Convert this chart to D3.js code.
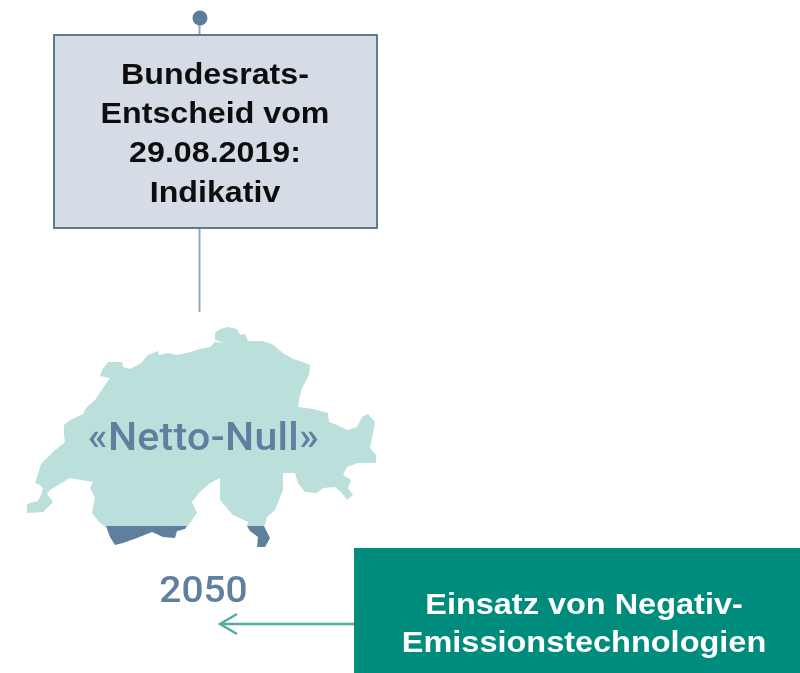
<!DOCTYPE html>
<html>
<head>
<meta charset="utf-8">
<script src="https://d3js.org/d3.v7.min.js"></script>
<style>
  html, body { margin: 0; padding: 0; background: #fff; }
  svg { display: block; }
</style>
</head>
<body>
<svg width="800" height="673"></svg>
<script>
// Texts
const decisionLines = ["Bundesrats-", "Entscheid vom", "29.08.2019:", "Indikativ"];
const mapLabel = "«Netto-Null»";
const yearLabel = "2050";
const measureLines = ["Einsatz von Negativ-", "Emissionstechnologien"];

// Map outline in map units (0,0 = top left of the country's bounding box)
const landOutline = [
  [0,186],[0,177],[11,174],[14,168],[16,161],[13,158],[8,156],[10,150],[14,137],[26,125],[38,115],
  [37,108],[37,98],[43,93],[56,87],[59,81],[68,73],[76,61],[83,51],[73,49],[75,43],[81,35],[95,35],
  [96,40],[103,42],[111,38],[115,35],[121,28],[131,24],[132,28],[141,26],[150,28],[160,26],[173,22],
  [183,20],[188,15],[198,16],[188,13],[188,6],[193,2],[201,0],[210,2],[213,8],[218,7],[221,14],
  [235,14],[245,17],[256,26],[266,32],[273,34],[283,38],[282,48],[275,61],[272,73],[271,80],
  [286,82],[301,86],[302,95],[310,98],[320,103],[330,100],[335,90],[341,87],[348,95],[346,106],
  [343,121],[349,128],[349,136],[331,136],[320,140],[316,148],[324,153],[321,161],[326,168],
  [320,173],[315,166],[308,160],[296,161],[290,166],[278,165],[271,156],[268,146],[256,146],
  [256,163],[248,183],[240,190],[237,200],[220,200],[221,195],[206,188],[193,173],[193,151],
  [183,156],[173,165],[165,175],[170,186],[160,200],[79,200],[73,196],[65,186],[68,170],[63,161],
  [66,155],[43,151],[23,163],[20,167],[26,175],[16,185]
];
const southWest = [
  [79,199],[160,199],[158,202],[150,204],[148,211],[136,210],[125,205],[110,211],[96,216],[88,218],[83,210]
];
const southEast = [
  [220,199],[237,199],[243,211],[238,220],[230,220],[231,210],[223,204]
];

// Scales from map units to the page
const x = d3.scaleLinear().domain([0, 350]).range([27, 377]);
const y = d3.scaleLinear().domain([0, 220]).range([327, 547]);

const outlinePath = d3.line().x(d => x(d[0])).y(d => y(d[1])).curve(d3.curveLinearClosed);

const svg = d3.select("svg");

// The source is a slightly soft raster, keep a bit of that
svg.append("defs").append("filter")
    .attr("id", "soft")
  .append("feGaussianBlur")
    .attr("stdDeviation", 0.7);

const g = svg.append("g").attr("filter", "url(#soft)");

// Timeline stem and marker
g.append("line")
    .attr("x1", 199.5).attr("x2", 199.5)
    .attr("y1", 18).attr("y2", 312)
    .attr("stroke", "#8fa9c0")
    .attr("stroke-width", 2);

g.append("circle")
    .attr("cx", 200).attr("cy", 18).attr("r", 7.5)
    .attr("fill", "#5b7b9b");

// Decision box
g.append("rect")
    .attr("x", 54).attr("y", 35)
    .attr("width", 323).attr("height", 193)
    .attr("fill", "#d5dce6")
    .attr("stroke", "#566c86")
    .attr("stroke-width", 1.8);

// The source text is a little wider than the font, so each line gets its own x scale
g.selectAll("text.decision")
  .data(decisionLines)
  .enter().append("text")
    .attr("class", "decision")
    .attr("transform", (d, i) => `translate(215,${83.5 + i * 39.4}) scale(1.073,1)`)
    .attr("text-anchor", "middle")
    .attr("font-family", "Liberation Sans")
    .attr("font-weight", "bold")
    .attr("font-size", 30)
    .attr("fill", "#111")
    .text(d => d);

// Country
g.append("path")
    .attr("d", outlinePath(landOutline))
    .attr("fill", "#bbdfda");

g.selectAll("path.south")
  .data([southWest, southEast])
  .enter().append("path")
    .attr("class", "south")
    .attr("d", outlinePath)
    .attr("fill", "#5f7f9f");

g.append("text")
    .attr("transform", "translate(203.5,450) scale(1.08,1)")
    .attr("text-anchor", "middle")
    .attr("font-family", "Roboto")
    .attr("font-weight", 500)
    .attr("font-size", 38)
    .attr("letter-spacing", 0.3)
    .attr("fill", "#5f7f9f")
    .text(mapLabel);

g.append("text")
    .attr("transform", "translate(203.5,602) scale(1.05,1)")
    .attr("text-anchor", "middle")
    .attr("font-family", "Roboto")
    .attr("font-weight", 500)
    .attr("font-size", 37)
    .attr("fill", "#5f7f9f")
    .text(yearLabel);

// Arrow from the measure box to the year
g.append("path")
    .attr("d", "M355,624H221M237,614L220,624L237,634")
    .attr("fill", "none")
    .attr("stroke", "#4fae9f")
    .attr("stroke-width", 2.4);

// Measure box
g.append("rect")
    .attr("x", 354).attr("y", 548)
    .attr("width", 446).attr("height", 125)
    .attr("fill", "#008c7c");

g.selectAll("text.measure")
  .data(measureLines)
  .enter().append("text")
    .attr("class", "measure")
    .attr("transform", (d, i) => `translate(584,${613.5 + i * 38}) scale(1.083,1)`)
    .attr("text-anchor", "middle")
    .attr("font-family", "Liberation Sans")
    .attr("font-weight", "bold")
    .attr("font-size", 30)
    .attr("fill", "#fff")
    .text(d => d);
</script>
</body>
</html>
